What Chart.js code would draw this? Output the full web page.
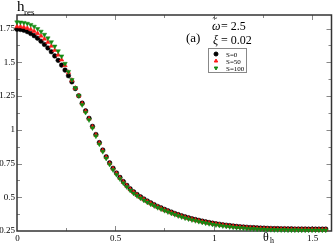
<!DOCTYPE html>
<html>
<head>
<meta charset="utf-8">
<script src="https://cdn.jsdelivr.net/npm/chart.js@4.4.1/dist/chart.umd.min.js"></script>
<style>
html, body { margin: 0; padding: 0; background: #fff; }
</style>
</head>
<body>
<canvas id="myChart" width="336" height="243"></canvas>
<script>
// theta_h sampled every degree, 0..90
const thetaDeg = [0,1,2,3,4,5,6,7,8,9,10,11,12,13,14,15,16,17,18,19,20,21,22,23,24,25,26,27,28,29,
    30,31,32,33,34,35,36,37,38,39,40,41,42,43,44,45,46,47,48,49,50,51,52,53,54,55,56,57,58,59,
    60,61,62,63,64,65,66,67,68,69,70,71,72,73,74,75,76,77,78,79,80,81,82,83,84,85,86,87,88,89,90];

const hS0 = [1.745,1.743,1.737,1.727,1.713,1.697,1.678,1.656,1.632,1.606,
    1.578,1.547,1.514,1.479,1.442,1.400,1.355,1.305,1.252,1.197,
    1.140,1.085,1.025,0.965,0.905,0.850,0.800,0.755,0.715,0.680,
    0.647,0.616,0.588,0.562,0.540,0.520,0.503,0.487,0.472,0.458,
    0.445,0.432,0.421,0.410,0.400,0.390,0.380,0.371,0.363,0.355,
    0.348,0.341,0.335,0.329,0.323,0.318,0.313,0.308,0.304,0.300,
    0.296,0.293,0.290,0.287,0.284,0.282,0.280,0.278,0.276,0.275,
    0.273,0.272,0.271,0.270,0.269,0.268,0.268,0.267,0.267,0.266,
    0.266,0.265,0.265,0.265,0.265,0.264,0.264,0.264,0.264,0.264,0.264];

const hS50 = [1.765,1.764,1.760,1.753,1.743,1.730,1.714,1.695,1.673,1.648,
    1.620,1.589,1.555,1.518,1.477,1.425,1.367,1.308,1.252,1.193,
    1.136,1.081,1.021,0.961,0.901,0.846,0.796,0.751,0.711,0.676,
    0.643,0.612,0.584,0.558,0.536,0.516,0.499,0.483,0.468,0.454,
    0.441,0.428,0.417,0.406,0.396,0.386,0.376,0.367,0.359,0.351,
    0.344,0.337,0.331,0.325,0.319,0.314,0.309,0.305,0.301,0.297,
    0.293,0.290,0.287,0.284,0.281,0.279,0.277,0.275,0.273,0.272,
    0.270,0.269,0.268,0.267,0.266,0.265,0.265,0.264,0.264,0.263,
    0.263,0.262,0.262,0.262,0.262,0.261,0.261,0.261,0.261,0.261,0.261];

const hS100 = [1.797,1.796,1.793,1.787,1.778,1.765,1.748,1.728,1.705,1.679,
    1.650,1.618,1.583,1.545,1.490,1.430,1.370,1.310,1.252,1.185,
    1.128,1.073,1.013,0.953,0.893,0.838,0.788,0.743,0.703,0.668,
    0.636,0.605,0.577,0.551,0.529,0.510,0.493,0.477,0.462,0.448,
    0.436,0.423,0.412,0.401,0.391,0.381,0.371,0.362,0.354,0.346,
    0.339,0.332,0.326,0.320,0.314,0.309,0.304,0.299,0.295,0.291,
    0.287,0.284,0.281,0.278,0.275,0.273,0.271,0.269,0.267,0.266,
    0.264,0.263,0.262,0.261,0.260,0.259,0.259,0.258,0.258,0.257,
    0.257,0.257,0.257,0.256,0.256,0.256,0.256,0.256,0.256,0.256,0.256];

const seriesLabels = ['S=0', 'S=50', 'S=100'];
const xMajor = [0, 0.5, 1, 1.5];
const yMajor = [0.25, 0.5, 0.75, 1, 1.25, 1.5, 1.75];

const serif = '"Liberation Serif", "DejaVu Serif", serif';

const toPoints = (vals) => vals.map((v, i) => ({ x: thetaDeg[i] * Math.PI / 180, y: v }));

const isMajor = (v, list) => list.some(m => Math.abs(m - v) < 1e-6);

const styles = [
    { pointStyle: 'circle', radius: 2.3, rotation: 0, color: '#000000', order: 2 },
    { pointStyle: 'triangle', radius: 2.6, rotation: 0, color: '#ff1a1a', order: 1 },
    { pointStyle: 'triangle', radius: 2.6, rotation: 180, color: '#138a13', order: 0 }
];
const allSeries = [hS0, hS50, hS100];

const datasets = allSeries.map((vals, k) => ({
    label: seriesLabels[k],
    data: toPoints(vals),
    showLine: false,
    pointStyle: styles[k].pointStyle,
    pointRadius: styles[k].radius,
    pointRotation: styles[k].rotation,
    pointBackgroundColor: styles[k].color,
    pointBorderColor: styles[k].color,
    pointBorderWidth: 0.5,
    order: styles[k].order,
    clip: 6
}));

// frame, inward ticks, x labels, annotations
const framePlugin = {
    id: 'frame',
    beforeDatasetsDraw(chart) {
        const { ctx, chartArea: a, scales } = chart;
        ctx.save();
        ctx.strokeStyle = '#888';
        ctx.lineWidth = 1;
        ctx.fillStyle = '#000';
        ctx.font = '9px ' + serif;
        ctx.textAlign = 'center';
        ctx.textBaseline = 'top';
        scales.x.ticks.forEach(t => {
            const major = isMajor(t.value, xMajor);
            const px = Math.round(scales.x.getPixelForValue(t.value)) + 0.5;
            if (major) ctx.fillText(String(t.value), px, a.bottom + 3);
            if (px <= a.left + 1 || px >= a.right - 1) return;
            const len = major ? 5 : 3;
            ctx.beginPath();
            ctx.moveTo(px, a.bottom); ctx.lineTo(px, a.bottom - len);
            ctx.moveTo(px, a.top); ctx.lineTo(px, a.top + len);
            ctx.stroke();
        });
        scales.y.ticks.forEach(t => {
            const py = Math.round(scales.y.getPixelForValue(t.value)) + 0.5;
            if (py <= a.top + 1 || py >= a.bottom - 1) return;
            const len = isMajor(t.value, yMajor) ? 5 : 3;
            ctx.beginPath();
            ctx.moveTo(a.left, py); ctx.lineTo(a.left + len, py);
            ctx.moveTo(a.right, py); ctx.lineTo(a.right - len, py);
            ctx.stroke();
        });
        ctx.strokeStyle = '#333';
        ctx.lineWidth = 1.5;
        ctx.strokeRect(a.left, a.top, a.right - a.left, a.bottom - a.top);
        ctx.restore();
    },
    afterDraw(chart) {
        const { ctx, chartArea: a } = chart;
        ctx.save();
        ctx.fillStyle = '#000';
        ctx.textBaseline = 'alphabetic';
        ctx.textAlign = 'left';
        // axis titles
        ctx.font = '15px ' + serif;
        ctx.fillText('h', a.left, 11);
        ctx.font = '9px ' + serif;
        ctx.fillText('res', a.left + 7, 15);
        ctx.font = '12px ' + serif;
        ctx.fillText('\u03B8', 263, 241);
        ctx.font = '8px ' + serif;
        ctx.fillText('h', 270, 243);
        // annotations
        ctx.font = '13px ' + serif;
        ctx.fillText('(a)', 186, 42);
        ctx.font = 'italic 12px ' + serif;
        ctx.fillText('\u03C9', 212, 30);
        ctx.fillText('\u03BE', 213, 44);
        ctx.font = '9px ' + serif;
        ctx.fillText('~', 212.5, 21);
        ctx.font = '12px ' + serif;
        ctx.fillText('= 2.5', 221, 30);
        ctx.fillText('= 0.02', 221, 44);
        // legend box
        ctx.strokeStyle = '#888';
        ctx.lineWidth = 1;
        ctx.strokeRect(208.5, 48.5, 38, 24);
        ctx.font = '7px ' + serif;
        chart.data.datasets.forEach((ds, k) => {
            const y = 54 + k * 7;
            ctx.fillStyle = ds.pointBackgroundColor;
            ctx.strokeStyle = ds.pointBorderColor;
            Chart.helpers.drawPoint(ctx, {
                pointStyle: ds.pointStyle, radius: 2, rotation: ds.pointRotation, borderWidth: 0.5
            }, 216, y);
            ctx.fillStyle = '#000';
            ctx.fillText(ds.label, 226, y + 2.5);
        });
        ctx.restore();
    }
};

const chartArea = document.getElementById('myChart');
const myChart = new Chart(chartArea, {
    type: 'scatter',
    data: { datasets: datasets },
    options: {
        responsive: false,
        animation: false,
        devicePixelRatio: 1,
        layout: { padding: { top: 15, right: 2, left: 0, bottom: 0 } },
        plugins: { legend: { display: false }, tooltip: { enabled: false } },
        scales: {
            x: {
                type: 'linear',
                min: 0,
                max: 1.6,
                grid: { display: false, drawTicks: false },
                border: { display: false },
                ticks: {
                    display: false,
                    stepSize: 0.25,
                    includeBounds: false,
                    autoSkip: false
                },
                afterFit: (s) => { s.height = 12; }
            },
            y: {
                type: 'linear',
                min: 0.25,
                max: 1.85,
                grid: { display: false, drawTicks: false },
                border: { display: false },
                ticks: {
                    stepSize: 0.125,
                    maxTicksLimit: 20,
                    includeBounds: false,
                    autoSkip: false,
                    padding: 2,
                    color: '#000',
                    font: { family: serif, size: 9 },
                    callback: (v) => isMajor(v, yMajor) ? String(v) : ''
                },
                afterFit: (s) => { s.width = 17; }
            }
        }
    },
    plugins: [framePlugin]
});
</script>
</body>
</html>
